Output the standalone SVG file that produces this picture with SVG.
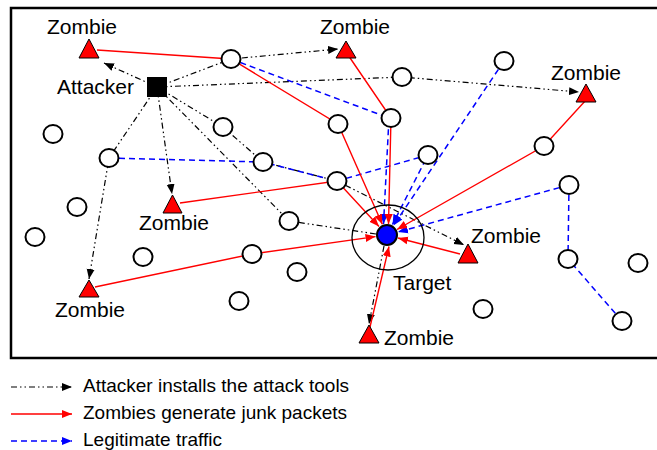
<svg xmlns="http://www.w3.org/2000/svg" width="657" height="450" viewBox="0 0 657 450">
<style>
text{font-family:"Liberation Sans",Arial,sans-serif;fill:#000}
.lbl{font-size:21px}
.leg{font-size:19px}
.atk{stroke:#000;stroke-width:1.2;stroke-dasharray:6 3 1.5 3 1.5 3;fill:none}
.junk{stroke:#f00;stroke-width:1.4;fill:none}
.legit{stroke:#00f;stroke-width:1.5;stroke-dasharray:6 4;fill:none}
.node{fill:#fff;stroke:#000;stroke-width:2}
.zombie{fill:#f00;stroke:#000;stroke-width:1}
</style>
<defs>
<marker id="ak" markerUnits="userSpaceOnUse" markerWidth="11" markerHeight="9" refX="10" refY="4.5" orient="auto"><path d="M0,0.5 L10,4.5 L0,8.5 z" fill="#000"/></marker>
<marker id="ar" markerUnits="userSpaceOnUse" markerWidth="11" markerHeight="9" refX="10" refY="4.5" orient="auto"><path d="M0,0.5 L10,4.5 L0,8.5 z" fill="#f00"/></marker>
<marker id="ab" markerUnits="userSpaceOnUse" markerWidth="11" markerHeight="9" refX="10" refY="4.5" orient="auto"><path d="M0,0.5 L10,4.5 L0,8.5 z" fill="#00f"/></marker>
</defs>
<rect x="11" y="8" width="670" height="350" fill="#fff" stroke="#000" stroke-width="2.5"/>
<g id="connectors">
<polyline class="atk" points="157,87 104,63" marker-end="url(#ak)"/>
<polyline class="atk" points="157,87 231,59 338,49" marker-end="url(#ak)"/>
<polyline class="atk" points="157,87 402,77 579,92" marker-end="url(#ak)"/>
<polyline class="atk" points="157,87 223,127 263,162 337,181 464,245" marker-end="url(#ak)"/>
<polyline class="atk" points="157,87 289,221 376,234"/>
<polyline class="atk" points="384,246 369,324" marker-end="url(#ak)"/>
<polyline class="atk" points="157,87 172,194" marker-end="url(#ak)"/>
<polyline class="atk" points="157,87 109,158 89,279" marker-end="url(#ak)"/>
<polyline class="legit" points="231,59 389,118 383.5,224" marker-end="url(#ab)"/>
<polyline class="legit" points="109,158 263,162 337,181 428,155 392.5,224.5" marker-end="url(#ab)"/>
<polyline class="legit" points="504,61 393.5,225.5" marker-end="url(#ab)"/>
<polyline class="legit" points="569,185 398,232" marker-end="url(#ab)"/>
<polyline class="legit" points="569,185 568,259 622,321"/>
<polyline class="junk" points="97,50 231,59 338,124 382.3,224.3" marker-end="url(#ar)"/>
<polyline class="junk" points="346,52 391,118 388.5,224" marker-end="url(#ar)"/>
<polyline class="junk" points="586,100 544,146 397,229.5" marker-end="url(#ar)"/>
<polyline class="junk" points="180,203 337,181 379,226.5" marker-end="url(#ar)"/>
<polyline class="junk" points="95,287 252,254 375.5,236.6" marker-end="url(#ar)"/>
<polyline class="junk" points="460,254 398,238" marker-end="url(#ar)"/>
<polyline class="junk" points="370,327 389,246.5" marker-end="url(#ar)"/>
</g>
<g id="nodes">
<ellipse class="node" cx="231" cy="59" rx="9.5" ry="9"/>
<ellipse class="node" cx="53" cy="134" rx="9.5" ry="9"/>
<ellipse class="node" cx="109" cy="158" rx="9.5" ry="9"/>
<ellipse class="node" cx="223" cy="127" rx="9.5" ry="9"/>
<ellipse class="node" cx="263" cy="162" rx="9.5" ry="9"/>
<ellipse class="node" cx="402" cy="77" rx="9.5" ry="9"/>
<ellipse class="node" cx="504" cy="61" rx="9.5" ry="9"/>
<ellipse class="node" cx="391" cy="118" rx="9.5" ry="9"/>
<ellipse class="node" cx="338" cy="124" rx="9.5" ry="9"/>
<ellipse class="node" cx="428" cy="155" rx="9.5" ry="9"/>
<ellipse class="node" cx="544" cy="146" rx="9.5" ry="9"/>
<ellipse class="node" cx="77" cy="207" rx="9.5" ry="9"/>
<ellipse class="node" cx="35" cy="237" rx="9.5" ry="9"/>
<ellipse class="node" cx="143" cy="257" rx="9.5" ry="9"/>
<ellipse class="node" cx="252" cy="254" rx="9.5" ry="9"/>
<ellipse class="node" cx="289" cy="221" rx="9.5" ry="9"/>
<ellipse class="node" cx="297" cy="272" rx="9.5" ry="9"/>
<ellipse class="node" cx="239" cy="301" rx="9.5" ry="9"/>
<ellipse class="node" cx="337" cy="181" rx="9.5" ry="9"/>
<ellipse class="node" cx="569" cy="185" rx="9.5" ry="9"/>
<ellipse class="node" cx="568" cy="259" rx="9.5" ry="9"/>
<ellipse class="node" cx="638" cy="263" rx="9.5" ry="9"/>
<ellipse class="node" cx="483" cy="309" rx="9.5" ry="9"/>
<ellipse class="node" cx="622" cy="321" rx="9.5" ry="9"/>
</g>
<g id="attacker">
<rect x="147" y="77" width="20" height="20" fill="#000"/>
<text class="lbl" x="57" y="94">Attacker</text>
</g>
<g id="target">
<ellipse cx="388" cy="237.5" rx="36" ry="32.5" fill="none" stroke="#000" stroke-width="1.3"/>
<circle cx="387" cy="235" r="10" fill="#00f" stroke="#000" stroke-width="2"/>
<text class="lbl" x="393" y="290">Target</text>
</g>
<g id="zombie1"><polygon class="zombie" points="89,39 79,58 99,58"/><text class="lbl" x="47" y="34">Zombie</text></g>
<g id="zombie2"><polygon class="zombie" points="346,41 336,58 356,58"/><text class="lbl" x="320" y="34">Zombie</text></g>
<g id="zombie3"><polygon class="zombie" points="586,84 576,102 596,102"/><text class="lbl" x="551" y="80">Zombie</text></g>
<g id="zombie4"><polygon class="zombie" points="172.5,195 163,213 182,213"/><text class="lbl" x="139" y="230">Zombie</text></g>
<g id="zombie5"><polygon class="zombie" points="89,280 79,297 99,297"/><text class="lbl" x="55" y="317">Zombie</text></g>
<g id="zombie6"><polygon class="zombie" points="468,244 458,263 478,263"/><text class="lbl" x="471" y="243">Zombie</text></g>
<g id="zombie7"><polygon class="zombie" points="369,325 359,343 379,343"/><text class="lbl" x="384" y="345">Zombie</text></g>
<g id="legend">
<line class="atk" x1="11" y1="387" x2="72" y2="387" marker-end="url(#ak)"/>
<line class="junk" x1="11" y1="414" x2="72" y2="414" marker-end="url(#ar)"/>
<line class="legit" x1="11" y1="441" x2="72" y2="441" marker-end="url(#ab)"/>
<text class="leg" x="83" y="392">Attacker installs the attack tools</text>
<text class="leg" x="83" y="419">Zombies generate junk packets</text>
<text class="leg" x="83" y="446">Legitimate traffic</text>
</g>
</svg>
